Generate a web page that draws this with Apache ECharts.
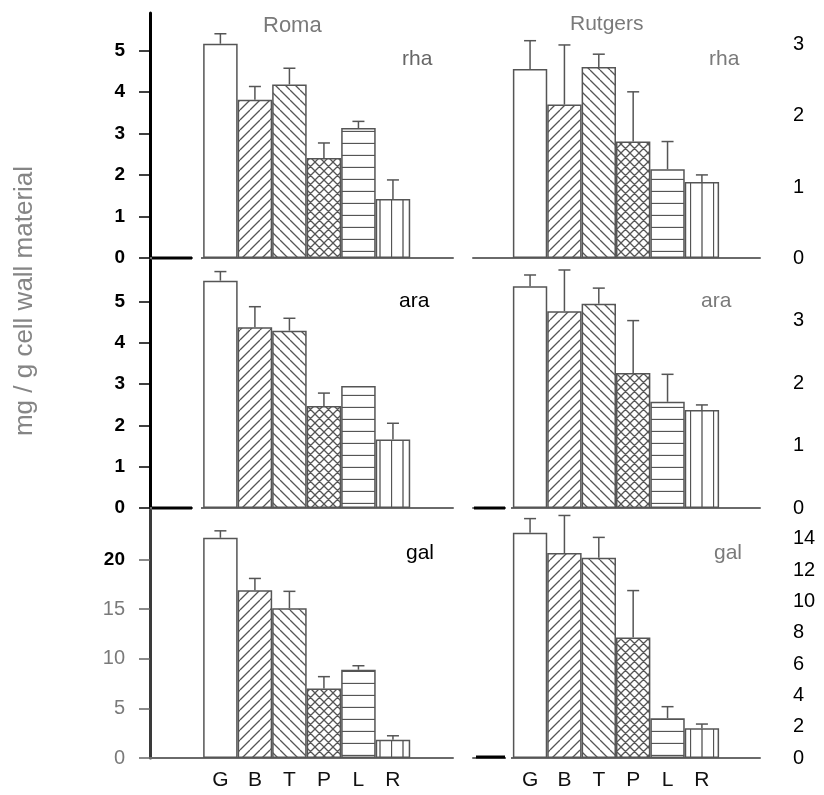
<!DOCTYPE html>
<html><head><meta charset="utf-8">
<script src="https://cdn.jsdelivr.net/npm/echarts@6/dist/echarts.min.js"></script>
<style>html,body{margin:0;padding:0;background:#fff}#c{width:824px;height:795px}</style>
</head><body><div id="c"></div>
<script>
// ---------- data ----------
const categories = ['G', 'B', 'T', 'P', 'L', 'R'];
const cultivars = ['Roma', 'Rutgers'];
const sugars = ['rha', 'ara', 'gal'];

const romaRha = [5.16, 3.81, 4.18, 2.41, 3.13, 1.42];
const romaRhaSd = [0.24, 0.32, 0.39, 0.36, 0.16, 0.46];
const romaAra = [5.50, 4.37, 4.29, 2.47, 2.95, 1.66];
const romaAraSd = [0.22, 0.50, 0.30, 0.31, 0, 0.39];
const romaGal = [22.2, 16.9, 15.1, 7.0, 8.9, 1.84];
const romaGalSd = [0.7, 1.2, 1.7, 1.2, 0.4, 0.4];

const rutgersRha = [2.66, 2.16, 2.69, 1.64, 1.25, 1.07];
const rutgersRhaSd = [0.40, 0.84, 0.18, 0.70, 0.39, 0.10];
const rutgersAra = [3.55, 3.15, 3.27, 2.16, 1.70, 1.57];
const rutgersAraSd = [0.18, 0.66, 0.25, 0.84, 0.44, 0.08];
const rutgersGal = [14.4, 13.1, 12.8, 7.7, 2.54, 1.9];
const rutgersGalSd = [0.9, 2.4, 1.3, 3.0, 0.74, 0.27];

const romaRhaTicks = [0, 1, 2, 3, 4, 5];
const romaAraTicks = [0, 1, 2, 3, 4, 5];
const romaGalTicks = [0, 5, 10, 15, 20];
const rutgersRhaTicks = [0, 1, 2, 3];
const rutgersAraTicks = [0, 1, 2, 3];
const rutgersGalTicks = [0, 2, 4, 6, 8, 10, 12, 14];

const yAxisTitle = 'mg / g cell wall material';

// ---------- styling helpers ----------
const FONT = '"Liberation Sans", Arial, Helvetica, sans-serif';
const INK = '#555';

function makePattern(kind) {
  if (kind === 'none') return '#ffffff';
  const c = document.createElement('canvas');
  let w = 10, h = 10;
  if (kind === 'fwd' || kind === 'back') { w = h = 10; }
  if (kind === 'cross') { w = h = 9; }
  if (kind === 'hline') { w = 4; h = 12; }
  if (kind === 'vline') { w = 23; h = 4; }
  c.width = w; c.height = h;
  const ctx = c.getContext('2d');
  ctx.fillStyle = '#fff'; ctx.fillRect(0, 0, w, h);
  ctx.strokeStyle = INK; ctx.lineWidth = 1.3; ctx.beginPath();
  if (kind === 'fwd' || kind === 'cross') {
    for (let k = -1; k <= 1; k++) { ctx.moveTo(k * w, h); ctx.lineTo(k * w + w, 0); }
  }
  if (kind === 'back' || kind === 'cross') {
    for (let k = -1; k <= 1; k++) { ctx.moveTo(k * w, 0); ctx.lineTo(k * w + w, h); }
  }
  if (kind === 'hline') { ctx.moveTo(0, h - 0.5); ctx.lineTo(w, h - 0.5); }
  if (kind === 'vline') { ctx.moveTo(0.5, 0); ctx.lineTo(0.5, h); ctx.moveTo(12, 0); ctx.lineTo(12, h); }
  ctx.stroke();
  return { image: c, repeat: 'repeat' };
}
const patternKinds = ['none', 'fwd', 'back', 'cross', 'hline', 'vline'];
const patterns = patternKinds.map(makePattern);

// ---------- layout ----------
const rows = [
  { top: 13, height: 245 },
  { top: 260, height: 248 },
  { top: 510, height: 248 }
];
const colLeft = { left: 150, width: 303, xmin: -2.04, xmax: 6.74 };
const colRight = { left: 473, width: 287, xmin: -1.66, xmax: 6.69 };

const panels = [
  { row: 0, col: 0, vals: romaRha, sd: romaRhaSd, ticks: romaRhaTicks, ymax: 5.9 },
  { row: 0, col: 1, vals: rutgersRha, sd: rutgersRhaSd, ticks: rutgersRhaTicks, ymax: 3.45 },
  { row: 1, col: 0, vals: romaAra, sd: romaAraSd, ticks: romaAraTicks, ymax: 6.0 },
  { row: 1, col: 1, vals: rutgersAra, sd: rutgersAraSd, ticks: rutgersAraTicks, ymax: 3.97 },
  { row: 2, col: 0, vals: romaGal, sd: romaGalSd, ticks: romaGalTicks, ymax: 25 },
  { row: 2, col: 1, vals: rutgersGal, sd: rutgersGalSd, ticks: rutgersGalTicks, ymax: 15.85 }
];

const grid = [], xAxis = [], yAxis = [], series = [];
panels.forEach((p, i) => {
  const col = p.col === 0 ? colLeft : colRight;
  const row = rows[p.row];
  grid.push({ left: col.left, width: col.width, top: row.top, height: row.height, containLabel: false, outerBoundsMode: 'none' });
  const bottomRow = p.row === 2;
  xAxis.push({
    type: 'value', gridIndex: i, min: col.xmin, max: col.xmax,
    splitLine: { show: false },
    axisLine: { show: true, onZero: false, lineStyle: { color: '#6a6a6a', width: 2 } },
    axisTick: { show: false },
    axisLabel: {
      show: bottomRow, customValues: categories.map((c, k) => k),
      formatter: v => categories[Math.round(v)] || '',
      color: '#111', fontSize: 21, fontFamily: FONT, margin: 12
    }
  });
  if (p.col === 0) {
    const gal = p.row === 2;
    yAxis.push({
      type: 'value', gridIndex: i, min: 0, max: p.ymax, position: 'left',
      splitLine: { show: false },
      axisLine: { show: true, onZero: false, lineStyle: { color: gal ? '#3a3a3a' : '#000', width: 3 } },
      axisTick: { show: true, customValues: p.ticks, length: 11, lineStyle: { color: gal ? '#666' : '#000', width: 1.5 } },
      axisLabel: {
        customValues: p.ticks, margin: 25, fontFamily: FONT, fontSize: 19,
        formatter: v => gal ? (v === 20 ? '{b|' + v + '}' : '{g|' + v + '}') : '{b|' + v + '}',
        rich: {
          b: { color: '#000', fontWeight: 'bold', fontSize: 19, fontFamily: FONT },
          g: { color: '#7a7a7a', fontSize: 20, fontFamily: FONT }
        }
      }
    });
  } else {
    yAxis.push({
      type: 'value', gridIndex: i, min: 0, max: p.ymax, position: 'right',
      splitLine: { show: false },
      axisLine: { show: false, onZero: false }, axisTick: { show: false },
      axisLabel: {
        customValues: p.ticks, margin: 33, align: 'left',
        color: '#000', fontSize: 20, fontFamily: FONT
      }
    });
  }
  series.push({
    type: 'bar', xAxisIndex: i, yAxisIndex: i, barWidth: '100%',
    itemStyle: { borderColor: INK, borderWidth: 1.5 },
    emphasis: { disabled: true },
    data: p.vals.map((v, k) => ({ value: [k, v], itemStyle: { color: patterns[k] } })),
    z: 2
  });
  series.push({
    type: 'custom', xAxisIndex: i, yAxisIndex: i, z: 3,
    data: p.vals.map((v, k) => [k, v, p.sd[k]]),
    renderItem: (params, api) => {
      const x = api.value(0), v = api.value(1), s = api.value(2);
      if (!s) return null;
      const p0 = api.coord([x, v]);
      const p1 = api.coord([x, v + s]);
      const st = { stroke: INK, lineWidth: 1.5 };
      return {
        type: 'group', children: [
          { type: 'line', shape: { x1: p0[0], y1: p0[1], x2: p1[0], y2: p1[1] }, style: st },
          { type: 'line', shape: { x1: p1[0] - 6, y1: p1[1], x2: p1[0] + 6, y2: p1[1] }, style: st }
        ]
      };
    }
  });
});

const titleStyle = (color, weight, size) => ({ color: color, fontWeight: weight || 'normal', fontSize: size || 21, fontFamily: FONT });
const title = [
  { text: cultivars[0], left: 258, top: 10, textStyle: titleStyle('#7a7a7a', 'normal', 22) },
  { text: cultivars[1], left: 565, top: 9, textStyle: titleStyle('#7a7a7a', 'normal', 21) },
  { text: sugars[0], left: 397, top: 44, textStyle: titleStyle('#666', 'normal', 21) },
  { text: sugars[0], left: 704, top: 44, textStyle: titleStyle('#7a7a7a', 'normal', 21) },
  { text: sugars[1], left: 394, top: 286, textStyle: titleStyle('#000', 'normal', 21) },
  { text: sugars[1], left: 696, top: 286, textStyle: titleStyle('#7a7a7a', 'normal', 21) },
  { text: sugars[2], left: 401, top: 538, textStyle: titleStyle('#000', 'normal', 21) },
  { text: sugars[2], left: 709, top: 538, textStyle: titleStyle('#7a7a7a', 'normal', 21) }
];

// scan artefacts on the baselines: short black stubs with small white gaps
const stub = (x1, x2, y) => ({ type: 'line', z: 100, shape: { x1: x1, y1: y, x2: x2, y2: y }, style: { stroke: '#000', lineWidth: 3 } });
const gap = (x1, x2, y) => ({ type: 'line', z: 100, shape: { x1: x1, y1: y, x2: x2, y2: y }, style: { stroke: '#fff', lineWidth: 4 } });

const chart = echarts.init(document.getElementById('c'), null, { renderer: 'canvas' });
chart.setOption({
  animation: false,
  backgroundColor: '#ffffff',
  title: title,
  grid: grid, xAxis: xAxis, yAxis: yAxis, series: series,
  graphic: [
    {
      type: 'text', x: 25, y: 301, rotation: Math.PI / 2,
      style: { text: yAxisTitle, fill: '#858585', font: '26px ' + FONT, textAlign: 'center', textVerticalAlign: 'middle' }
    },
    gap(193, 201, 258), stub(152, 192, 258),
    gap(193, 201, 508), stub(152, 192, 508),
    gap(506, 511, 508), stub(474, 505, 508),
    gap(506, 511, 757), stub(476, 505, 757)
  ]
});
</script></body></html>
